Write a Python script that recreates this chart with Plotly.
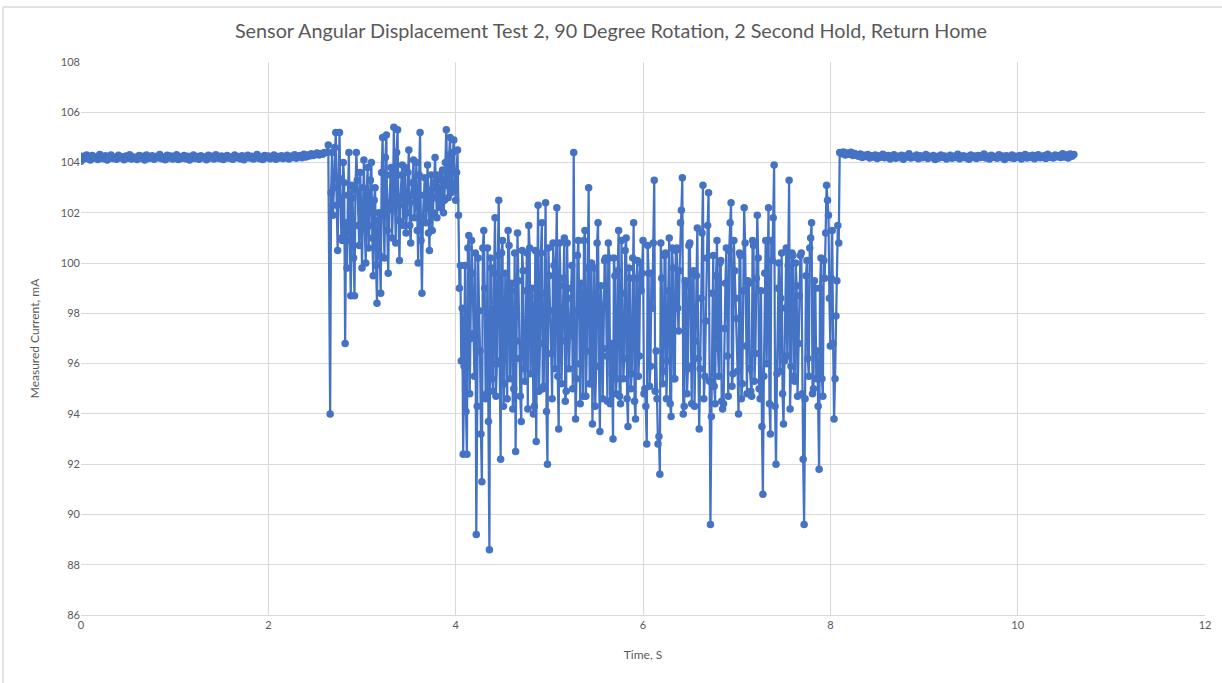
import plotly.graph_objects as go

# Sampling of the logged current (seconds)
home_interval = 0.02
motion_interval = 0.01
home_start_t0 = 0.00
motion_t0 = 2.66
home_end_t0 = 8.10

# Home position, 0.00 s - 2.64 s (mA)
home_start = [
    104.05, 104.25, 104.15, 104.30, 104.20, 104.10, 104.28, 104.18, 104.22, 104.12,
    104.32, 104.20, 104.15, 104.27, 104.10, 104.24, 104.30, 104.16, 104.21, 104.13,
    104.29, 104.19, 104.23, 104.11, 104.26, 104.17, 104.31, 104.14, 104.22, 104.20,
    104.12, 104.28, 104.18, 104.25, 104.10, 104.30, 104.16, 104.21, 104.27, 104.13,
    104.24, 104.19, 104.32, 104.15, 104.22, 104.11, 104.29, 104.18, 104.26, 104.14,
    104.20, 104.31, 104.12, 104.23, 104.17, 104.28, 104.15, 104.25, 104.10, 104.21,
    104.30, 104.16, 104.24, 104.13, 104.27, 104.19, 104.22, 104.11, 104.29, 104.18,
    104.25, 104.14, 104.31, 104.20, 104.16, 104.26, 104.12, 104.23, 104.28, 104.17,
    104.21, 104.13, 104.30, 104.19, 104.24, 104.15, 104.27, 104.11, 104.22, 104.29,
    104.18, 104.25, 104.14, 104.20, 104.32, 104.16, 104.23, 104.12, 104.28, 104.19,
    104.26, 104.15, 104.21, 104.30, 104.13, 104.24, 104.18, 104.27, 104.16, 104.22,
    104.29, 104.14, 104.25, 104.20, 104.31, 104.17, 104.23, 104.28, 104.19, 104.33,
    104.22, 104.30, 104.26, 104.35, 104.28, 104.32, 104.38, 104.30, 104.36, 104.33,
    104.40, 104.40, 104.70,
]

# Rotation to 90 degrees, even samples 2.66 s - 4.04 s (mA)
rotation_even = [
    94.0, 104.4, 103.0, 105.2, 100.5, 105.2, 101.0, 104.0, 96.8, 99.8,
    104.4, 98.7, 102.6, 98.7, 104.4, 101.5, 103.6, 99.8, 104.1, 100.0,
    103.8, 101.5, 104.0, 99.5, 103.0, 98.4, 102.0, 98.8, 105.0, 100.2,
    105.1, 99.6, 103.5, 101.0, 105.4, 100.8, 105.3, 100.1, 103.5, 101.5,
    103.8, 102.0, 104.5, 100.8, 103.2, 101.8, 104.0, 100.0, 105.2, 98.8,
    102.7, 101.6, 103.9, 100.5, 103.5, 102.0, 104.2, 101.8, 103.0, 102.2,
    103.7, 102.5, 105.3, 102.6, 105.0, 103.0, 104.9, 102.5, 104.5, 99.0,
]
# Rotation to 90 degrees, odd samples 2.67 s - 4.05 s (mA)
rotation_odd = [
    102.8, 101.9, 104.6, 102.3, 103.4, 102.6, 100.9, 103.2, 101.6, 102.7,
    100.9, 103.1, 100.2, 102.9, 103.3, 100.7, 102.4, 103.0, 101.4, 102.8,
    100.6, 103.3, 101.0, 102.5, 99.9, 101.7, 100.3, 103.6, 101.9, 104.2,
    101.3, 102.4, 103.8, 102.1, 103.0, 104.4, 101.7, 102.6, 103.9, 102.3,
    101.2, 103.6, 101.5, 102.7, 104.1, 102.4, 101.3, 103.5, 100.9, 101.8,
    103.4, 102.4, 101.2, 102.9, 101.3, 103.2, 102.6, 103.5, 102.4, 103.3,
    102.0, 104.0, 103.1, 104.3, 102.8, 104.4, 103.2, 103.6, 101.9, 99.9,
]

# Hold and return, even samples 4.06 s - 8.08 s (mA)
hold_even = [
    96.1, 92.4, 99.9, 92.4, 101.1, 97.0, 99.6, 95.5, 89.2, 100.2,
    96.5, 91.3, 101.3, 94.6, 100.6, 88.6, 99.8, 94.9, 101.8, 96.0,
    102.5, 92.2, 100.9, 95.2, 98.5, 101.3, 95.4, 99.2, 95.0, 92.5,
    101.2, 96.2, 93.7, 99.7, 95.3, 100.4, 101.5, 95.6, 99.0, 94.3,
    92.9, 102.3, 96.8, 101.6, 95.1, 102.4, 92.0, 99.5, 96.4, 100.8,
    95.8, 102.2, 93.4, 99.1, 96.9, 101.0, 94.9, 98.6, 97.1, 99.9,
    104.4, 93.8, 100.3, 96.0, 99.2, 94.7, 101.3, 96.5, 103.0, 95.2,
    93.6, 99.8, 95.9, 101.6, 93.3, 98.3, 96.6, 100.2, 94.5, 100.2,
    96.8, 93.0, 99.5, 95.4, 101.3, 94.4, 98.8, 96.2, 101.0, 93.5,
    99.4, 95.6, 101.6, 93.8, 100.1, 96.3, 98.9, 100.9, 95.0, 92.8,
    99.6, 95.9, 98.2, 103.3, 96.5, 92.8, 91.6, 99.4, 95.7, 100.4,
    96.1, 101.0, 93.9, 99.8, 95.4, 100.6, 97.3, 101.6, 103.4, 94.3,
    99.1, 95.8, 100.8, 94.4, 99.7, 96.9, 101.4, 93.4, 98.6, 103.1,
    95.5, 100.2, 102.8, 89.6, 98.8, 95.1, 99.5, 96.6, 100.0, 94.5,
    94.4, 99.2, 96.3, 100.5, 102.4, 95.6, 99.7, 97.8, 94.0, 100.3,
    95.2, 102.2, 96.7, 99.3, 95.8, 94.7, 100.7, 96.4, 101.9, 95.0,
    98.9, 90.8, 99.6, 96.0, 102.2, 93.2, 100.1, 103.9, 92.0, 99.0,
    95.7, 100.4, 93.6, 98.2, 96.3, 103.3, 95.9, 100.3, 95.3, 99.1,
    96.8, 100.3, 94.8, 89.6, 99.5, 96.2, 100.6, 101.6, 95.0, 99.0,
    96.5, 91.8, 100.2, 94.7, 99.4, 103.1, 101.9, 96.7, 101.3, 93.8,
    97.9, 101.5,
]
# Hold and return, odd samples 4.07 s - 8.09 s (mA)
hold_odd = [
    98.2, 95.9, 94.1, 100.6, 94.8, 100.9, 97.2, 100.4, 94.3, 98.1,
    93.2, 100.6, 99.0, 94.8, 93.7, 100.2, 95.4, 99.6, 94.7, 100.3,
    96.1, 100.4, 94.3, 99.6, 94.6, 100.7, 98.9, 94.2, 100.4, 96.9,
    99.3, 94.7, 100.5, 95.8, 98.9, 94.2, 100.6, 98.3, 94.0, 100.5,
    98.7, 94.9, 100.4, 95.0, 98.8, 94.1, 100.6, 98.1, 94.6, 99.9,
    99.7, 95.5, 100.8, 95.2, 99.4, 94.5, 100.8, 95.8, 99.0, 95.0,
    98.1, 95.4, 100.9, 94.4, 98.0, 100.9, 94.7, 99.8, 95.2, 100.0,
    96.9, 94.3, 100.8, 95.9, 99.1, 94.6, 100.1, 96.3, 100.8, 94.4,
    95.6, 100.2, 94.8, 99.7, 94.7, 100.9, 95.4, 100.5, 94.6, 99.8,
    95.0, 100.2, 94.5, 99.4, 95.5, 100.0, 99.6, 94.8, 94.3, 100.7,
    95.1, 99.6, 100.8, 94.9, 94.6, 93.1, 100.8, 95.2, 100.3, 94.6,
    98.9, 94.4, 100.6, 95.4, 100.5, 98.2, 99.7, 102.1, 94.0, 99.3,
    94.8, 100.7, 95.9, 99.6, 94.3, 99.5, 96.2, 95.8, 101.2, 94.6,
    97.7, 101.5, 95.3, 93.9, 100.3, 94.4, 100.9, 95.5, 100.1, 94.2,
    97.4, 100.6, 94.7, 101.6, 95.1, 100.9, 98.6, 95.7, 100.4, 94.6,
    98.9, 100.8, 94.8, 99.2, 94.9, 100.9, 95.3, 99.4, 100.2, 94.6,
    93.5, 95.5, 100.9, 99.3, 94.4, 100.9, 101.8, 94.3, 95.6, 100.0,
    98.6, 94.8, 96.1, 100.6, 99.9, 94.2, 100.4, 95.5, 100.0, 94.7,
    98.7, 100.4, 92.2, 94.6, 100.1, 95.5, 101.0, 94.8, 99.3, 95.4,
    94.3, 99.0, 95.4, 100.1, 101.2, 102.5, 98.6, 99.4, 96.8, 95.4,
    99.3, 100.8,
]

# Home position again, 8.10 s - 10.60 s (mA)
home_end = [
    104.40, 104.35, 104.42, 104.30, 104.38, 104.33, 104.41, 104.28, 104.36, 104.31,
    104.25, 104.34, 104.20, 104.29, 104.24, 104.32, 104.18, 104.27, 104.22, 104.30,
    104.16, 104.26, 104.21, 104.33, 104.19, 104.24, 104.28, 104.14, 104.23, 104.31,
    104.17, 104.25, 104.20, 104.29, 104.13, 104.26, 104.22, 104.35, 104.18, 104.24,
    104.21, 104.30, 104.15, 104.27, 104.19, 104.23, 104.32, 104.16, 104.25, 104.20,
    104.28, 104.12, 104.24, 104.18, 104.30, 104.21, 104.26, 104.14, 104.23, 104.29,
    104.17, 104.25, 104.20, 104.33, 104.15, 104.22, 104.27, 104.19, 104.24, 104.13,
    104.30, 104.21, 104.26, 104.16, 104.28, 104.20, 104.23, 104.34, 104.18, 104.25,
    104.14, 104.29, 104.21, 104.24, 104.17, 104.31, 104.20, 104.26, 104.12, 104.27,
    104.22, 104.19, 104.30, 104.16, 104.25, 104.21, 104.28, 104.14, 104.23, 104.32,
    104.18, 104.26, 104.20, 104.29, 104.15, 104.24, 104.31, 104.19, 104.22, 104.27,
    104.16, 104.33, 104.21, 104.25, 104.18, 104.30, 104.23, 104.28, 104.20, 104.35,
    104.22, 104.30, 104.18, 104.34, 104.25, 104.32,
]

x_ticks = [0, 2, 4, 6, 8, 10, 12]
y_ticks = [86, 88, 90, 92, 94, 96, 98, 100, 102, 104, 106, 108]


def interleave(even, odd):
    out = []
    for a, b in zip(even, odd):
        out += [a, b]
    return out


motion = interleave(rotation_even, rotation_odd) + interleave(hold_even, hold_odd)

time_s = ([round(home_start_t0 + i * home_interval, 3) for i in range(len(home_start))]
          + [round(motion_t0 + i * motion_interval, 3) for i in range(len(motion))]
          + [round(home_end_t0 + i * home_interval, 3) for i in range(len(home_end))])
current = home_start + motion + home_end

BLUE = "#4472C4"
TEXT = "#595959"
GRID = "#d9d9d9"
FONT = "Lato, Open Sans, sans-serif"

fig = go.Figure()
fig.add_trace(go.Scatter(
    x=time_s, y=current, mode="lines+markers",
    line=dict(color=BLUE, width=2.25),
    marker=dict(color=BLUE, size=7.5, symbol="circle"),
    showlegend=False, hoverinfo="x+y",
))

# thin border of the chart area (left and top edges)
fig.add_shape(type="line", xref="paper", yref="paper",
              x0=-0.0694, x1=1.05, y0=1.0995, y1=1.0995,
              line=dict(color=GRID, width=1.5))
fig.add_shape(type="line", xref="paper", yref="paper",
              x0=-0.0694, x1=-0.0694, y0=1.0995, y1=-0.15,
              line=dict(color=GRID, width=1.5))

fig.update_layout(
    width=1222, height=683,
    margin=dict(l=81, r=17, t=62, b=68),
    paper_bgcolor="white", plot_bgcolor="white",
    font=dict(family=FONT, color=TEXT, size=11),
    title=dict(
        text="Sensor Angular Displacement Test 2, 90 Degree Rotation, 2 Second Hold, Return Home",
        x=0.5, xanchor="center", y=0.955, yanchor="middle",
        font=dict(size=19.8, color=TEXT, family=FONT),
    ),
    xaxis=dict(
        range=[0, 12], tickvals=x_ticks, ticktext=[str(v) for v in x_ticks],
        showgrid=True, gridcolor=GRID, gridwidth=1,
        zeroline=False, showline=True, linecolor=GRID, linewidth=1,
        ticks="", tickfont=dict(size=11, color=TEXT),
        title=dict(text="Time, S", font=dict(size=12, color=TEXT), standoff=20),
    ),
    yaxis=dict(
        range=[86, 108], tickvals=y_ticks, ticktext=[str(v) for v in y_ticks],
        showgrid=True, gridcolor=GRID, gridwidth=1,
        zeroline=False, showline=False,
        ticks="", tickfont=dict(size=11, color=TEXT),
        title=dict(text="Measured Current, mA", font=dict(size=12, color=TEXT), standoff=18),
    ),
)

fig.write_html("out.html", config={"displayModeBar": False},
               post_script="document.body.style.margin='0';document.body.style.overflow='hidden';")
